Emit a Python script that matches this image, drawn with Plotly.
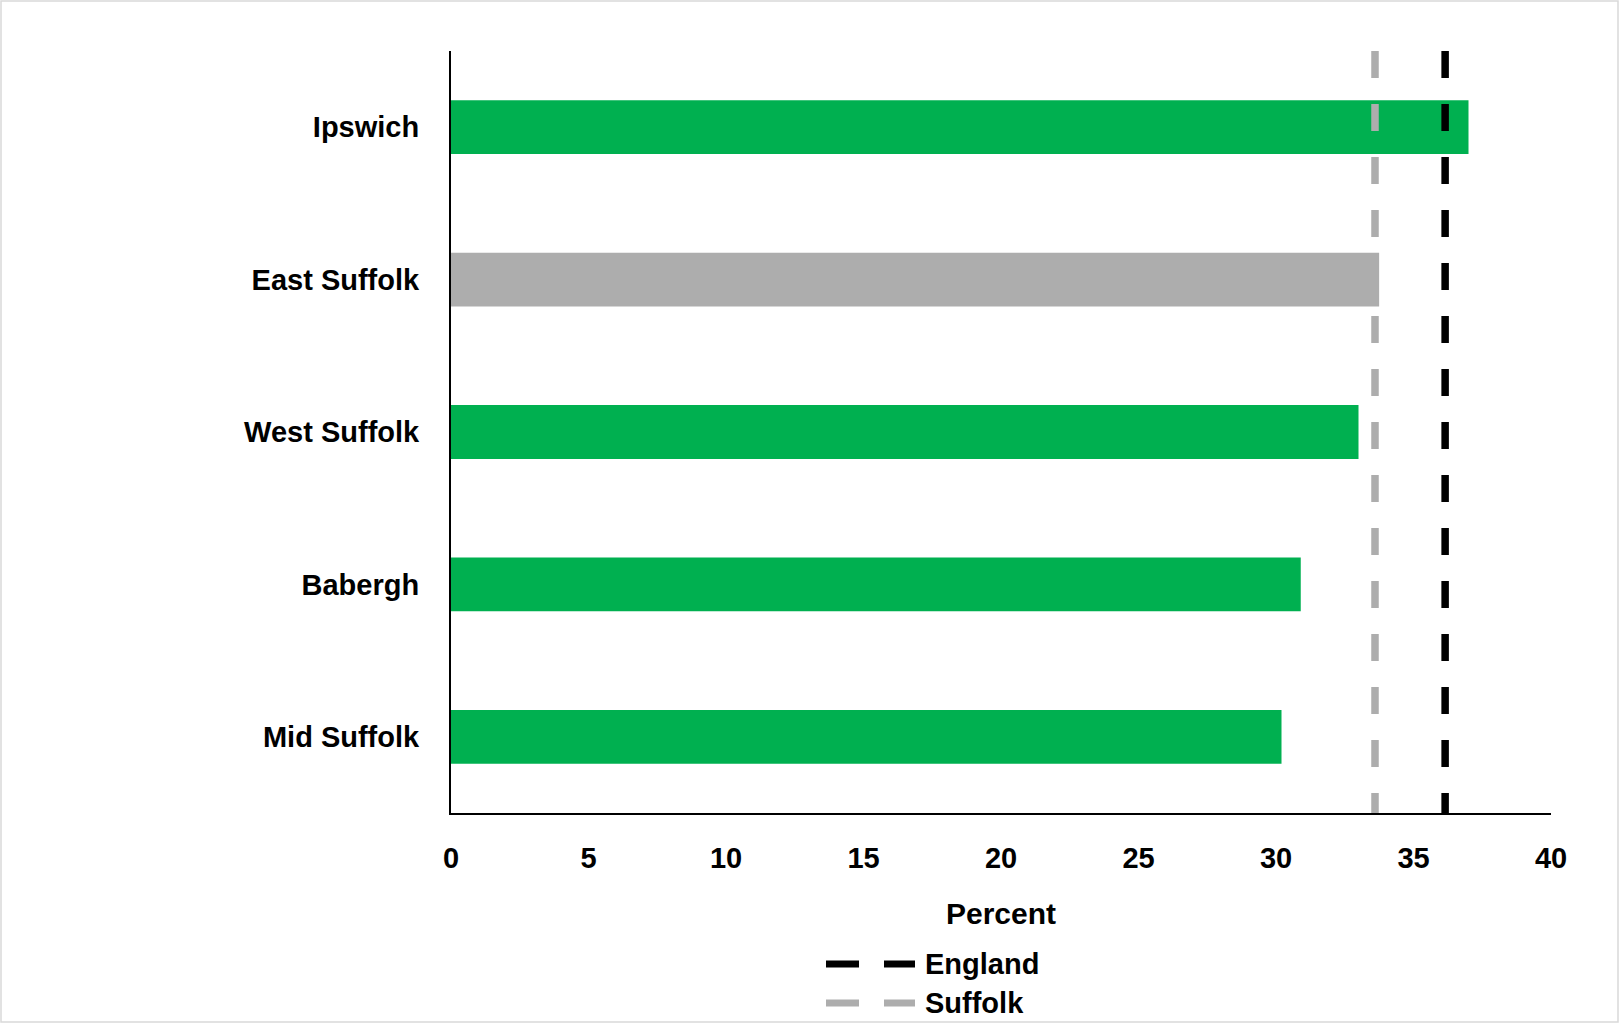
import plotly.graph_objects as go

categories = ["Ipswich", "East Suffolk", "West Suffolk", "Babergh", "Mid Suffolk"]
values = [37.0, 33.75, 33.0, 30.9, 30.2]
bar_colors = ["#00B050", "#ADADAD", "#00B050", "#00B050", "#00B050"]
ref_names = ["England", "Suffolk"]
ref_values = [36.15, 33.6]
ref_colors = ["#000000", "#ADADAD"]
x_ticks = [0, 5, 10, 15, 20, 25, 30, 35, 40]

FONT = "Liberation Sans, Arial, sans-serif"
FS = 29

fig = go.Figure()
fig.add_trace(go.Bar(
    y=categories, x=values, orientation="h",
    marker=dict(color=bar_colors, line=dict(width=0)),
    showlegend=False, hoverinfo="x+y",
))

W, H = 1619, 1023
ml, mr, mt, mb = 451, 68, 51, 210
pw, ph = W - ml - mr, H - mt - mb

def px_x(px):
    return (px - ml) / pw

def px_y(py):
    return (H - mb - py) / ph

shapes = []
for v, c in zip(ref_values, ref_colors):
    shapes.append(dict(type="line", xref="x", yref="paper", x0=v, x1=v, y0=1, y1=0,
                       line=dict(color=c, width=7.5, dash="27px,26px"), layer="above"))

# outer border
shapes.append(dict(type="rect", xref="paper", yref="paper",
                   x0=px_x(1), x1=px_x(W - 1), y0=px_y(1), y1=px_y(H - 1),
                   line=dict(color="#D9D9D9", width=1.5), layer="below"))

annotations = []
leg_y = [964, 1003]
for i, (name, c) in enumerate(zip(ref_names, ref_colors)):
    yy = px_y(leg_y[i])
    for a, b in [(826, 859), (884, 915)]:
        shapes.append(dict(type="line", xref="paper", yref="paper",
                           x0=px_x(a), x1=px_x(b), y0=yy, y1=yy,
                           line=dict(color=c, width=7)))
    annotations.append(dict(xref="paper", yref="paper", x=px_x(923), y=yy,
                            text=f"<b>{name}</b>", showarrow=False, xanchor="left",
                            yanchor="middle", font=dict(size=FS, color="#000000", family=FONT)))

fig.update_layout(
    width=W, height=H,
    margin=dict(l=ml, r=mr, t=mt, b=mb, pad=0),
    paper_bgcolor="white", plot_bgcolor="white",
    bargap=0.647,
    font=dict(family=FONT, color="#000000"),
    xaxis=dict(range=[0, 40], tickvals=x_ticks, ticktext=[f"<b>{t}</b>" for t in x_ticks],
               showgrid=False, zeroline=False, showline=True, linecolor="#000000", linewidth=2,
               ticks="", tickfont=dict(size=FS, family=FONT), ticklabelstandoff=18,
               title=dict(text="<b>Percent</b>", font=dict(size=FS + 1, family=FONT), standoff=30)),
    yaxis=dict(categoryorder="array", categoryarray=categories, autorange="reversed",
               tickvals=categories, ticktext=[f"<b>{c}</b>" for c in categories],
               showgrid=False, zeroline=False, showline=True, linecolor="#000000", linewidth=2,
               ticks="", tickfont=dict(size=FS, family=FONT), ticklabelstandoff=24),
    shapes=shapes, annotations=annotations, showlegend=False,
)

fig.write_html("out.html", config={"displayModeBar": False},
               post_script="document.body.style.margin='0';document.body.style.overflow='hidden';")
